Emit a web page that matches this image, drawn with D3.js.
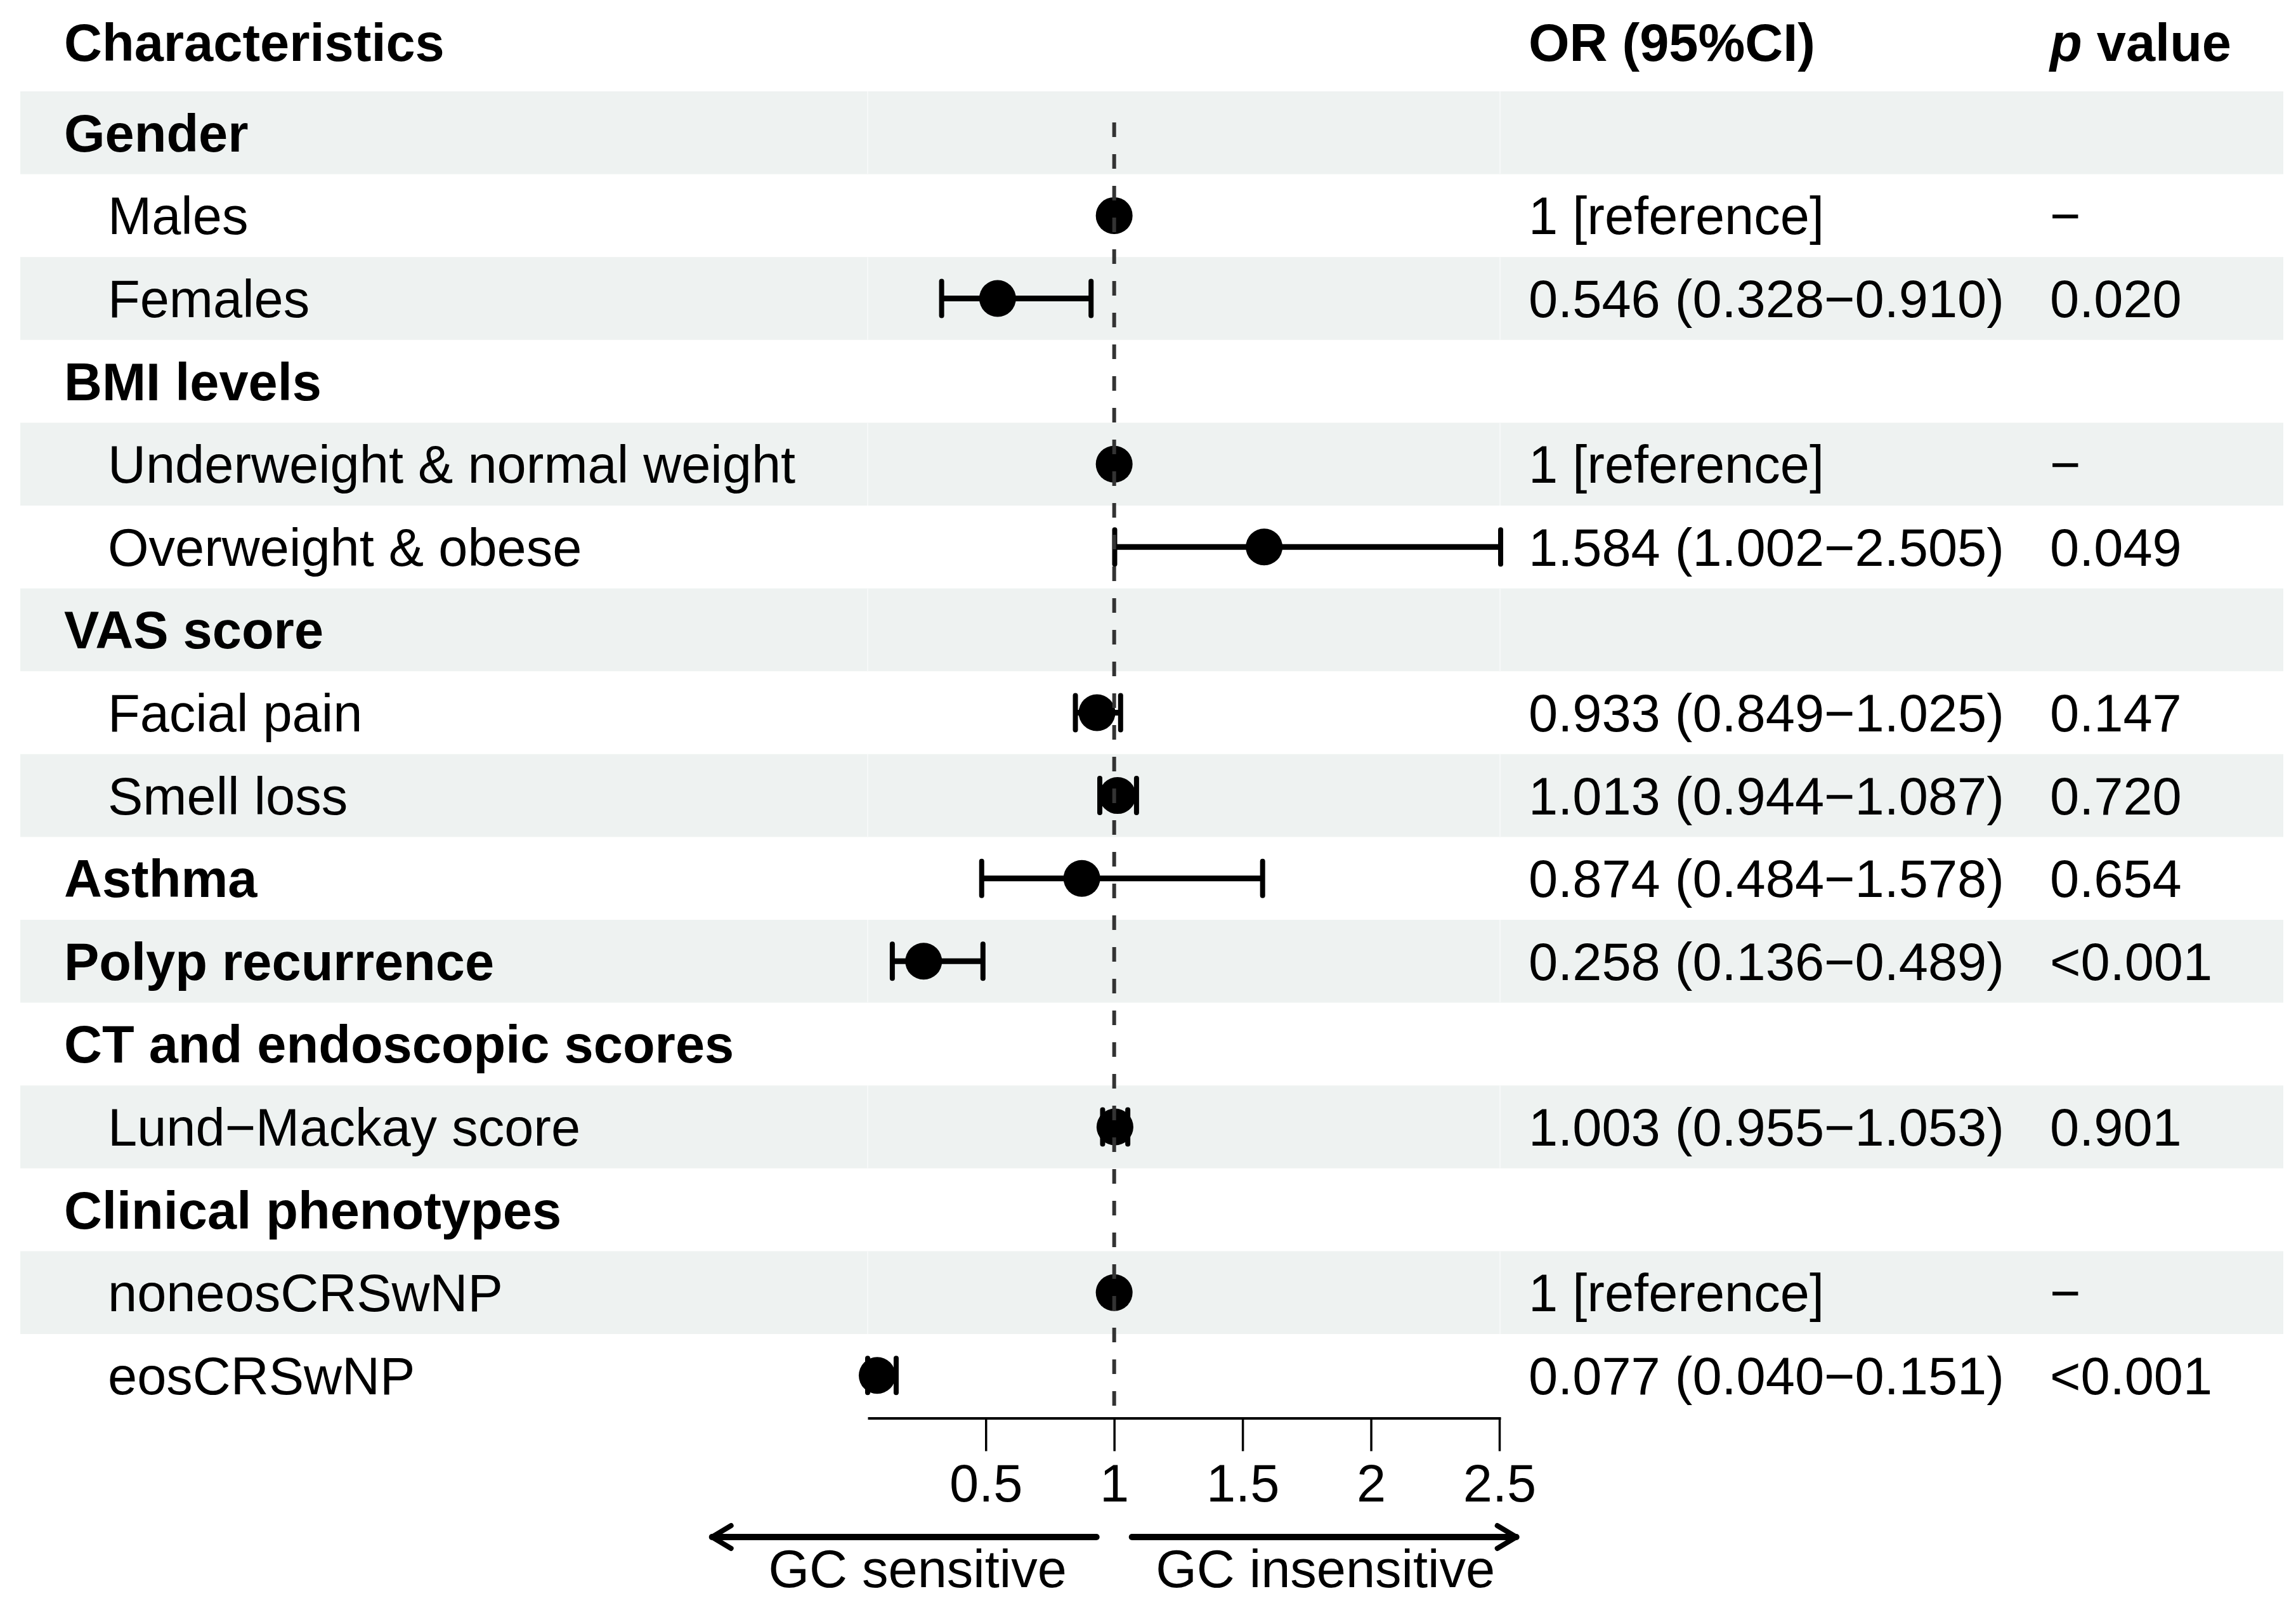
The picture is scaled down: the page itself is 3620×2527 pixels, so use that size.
<!DOCTYPE html>
<html lang="en">
<head>
  <meta charset="UTF-8">
  <title>Forest plot - GC sensitivity</title>
  <script src="https://d3js.org/d3.v7.min.js"></script>
  <style>
    body { margin: 0; background: #fff; }
    svg { display: block; }
    text {
      font-family: "Liberation Sans", Arial, Helvetica, sans-serif;
      font-size: 83px;
      fill: #000;
    }
  </style>
</head>
<body>
  <svg></svg>
  <script>

    // data
    const labels = ['Gender', 'Males', 'Females', 'BMI levels', 'Underweight & normal weight',
      'Overweight & obese', 'VAS score', 'Facial pain', 'Smell loss', 'Asthma',
      'Polyp recurrence', 'CT and endoscopic scores', 'Lund\u2212Mackay score',
      'Clinical phenotypes', 'noneosCRSwNP', 'eosCRSwNP'];
    // 0 = group heading, 1 = sub item
    const level = [0, 1, 1, 0, 1, 1, 0, 1, 1, 0, 0, 0, 1, 0, 1, 1];
    // OR and 95% CI (null = no estimate, ref rows have OR 1 with no CI)
    const est = [null, 1, 0.546, null, 1, 1.584, null, 0.933, 1.013, 0.874, 0.258, null, 1.003, null, 1, 0.077];
    const lo  = [null, null, 0.328, null, null, 1.002, null, 0.849, 0.944, 0.484, 0.136, null, 0.955, null, null, 0.040];
    const hi  = [null, null, 0.910, null, null, 2.505, null, 1.025, 1.087, 1.578, 0.489, null, 1.053, null, null, 0.151];
    const pvals = ['', '\u2212', '0.020', '', '\u2212', '0.049', '', '0.147', '0.720', '0.654', '<0.001', '', '0.901', '', '\u2212', '<0.001'];
    const ticks = [0.5, 1, 1.5, 2, 2.5];
    const arrowLabels = ['GC sensitive', 'GC insensitive'];

    // layout
    const W = 3620, H = 2527;
    const rowTop = 144, rowH = 130.6;
    const bandX0 = 32, bandX1 = 3600;
    const colLabel = 101, colIndent = 170, colOR = 2410, colP = 3232;
    const plotX0 = 1368, plotX1 = 2366;
    const n = labels.length;

    const svg = d3.select('svg')
      .attr('width', W)
      .attr('height', H);

    const x = d3.scaleLinear()
      .domain([d3.min(lo), d3.max(hi)])
      .range([plotX0, plotX1]);

    const y = d3.scaleBand()
      .domain(d3.range(n))
      .range([rowTop, rowTop + n * rowH]);

    const mid = i => y(i) + rowH / 2;
    const base = i => mid(i) + 29.5;

    // striped backgrounds
    const rows = d3.range(n);
    svg.selectAll('rect.band')
      .data(rows.filter(i => i % 2 === 0))
      .enter()
      .append('rect')
      .attr('class', 'band')
      .attr('x', bandX0)
      .attr('y', i => y(i))
      .attr('width', bandX1 - bandX0)
      .attr('height', rowH)
      .attr('fill', '#eef2f1');

    // faint column separators in the bands
    [plotX0, plotX1 - 1].forEach(cx => {
      svg.selectAll(null)
        .data(rows.filter(i => i % 2 === 0))
        .enter()
        .append('line')
        .attr('x1', cx).attr('x2', cx)
        .attr('y1', i => y(i)).attr('y2', i => y(i) + rowH)
        .attr('stroke', '#f6f8f8')
        .attr('stroke-width', 2);
    });

    // header
    const header = svg.append('g').attr('font-weight', 'bold');
    header.append('text').attr('x', colLabel).attr('y', 96).text('Characteristics');
    header.append('text').attr('x', colOR).attr('y', 96).text('OR (95%CI)');
    const pHead = header.append('text').attr('x', colP).attr('y', 96);
    pHead.append('tspan').attr('font-style', 'italic').text('p');
    pHead.append('tspan').text(' value');

    // label column
    svg.selectAll('text.lab')
      .data(rows)
      .enter()
      .append('text')
      .attr('class', 'lab')
      .attr('x', i => level[i] === 0 ? colLabel : colIndent)
      .attr('y', base)
      .attr('font-weight', i => level[i] === 0 ? 'bold' : 'normal')
      .text(i => labels[i]);

    // OR column
    const orText = i => {
      if (est[i] === null) return '';
      if (lo[i] === null) return '1 [reference]';
      return `${est[i].toFixed(3)} (${lo[i].toFixed(3)}\u2212${hi[i].toFixed(3)})`;
    };
    svg.selectAll('text.or')
      .data(rows)
      .enter()
      .append('text')
      .attr('class', 'or')
      .attr('x', colOR)
      .attr('y', base)
      .text(orText);

    // p column
    svg.selectAll('text.p')
      .data(rows)
      .enter()
      .append('text')
      .attr('class', 'p')
      .attr('x', colP)
      .attr('y', base)
      .text(i => pvals[i]);

    // CI lines and caps
    const ciRows = rows.filter(i => lo[i] !== null);
    svg.selectAll('line.ci')
      .data(ciRows)
      .enter()
      .append('line')
      .attr('x1', i => x(lo[i]))
      .attr('x2', i => x(hi[i]))
      .attr('y1', mid).attr('y2', mid)
      .attr('stroke', '#000')
      .attr('stroke-width', 9);

    ['lo', 'hi'].forEach(k => {
      const v = k === 'lo' ? lo : hi;
      svg.selectAll(null)
        .data(ciRows)
        .enter()
        .append('line')
        .attr('x1', i => x(v[i])).attr('x2', i => x(v[i]))
        .attr('y1', i => mid(i) - 27).attr('y2', i => mid(i) + 27)
        .attr('stroke', '#000')
        .attr('stroke-width', 8)
        .attr('stroke-linecap', 'round');
    });

    // points
    svg.selectAll('circle')
      .data(rows.filter(i => est[i] !== null))
      .enter()
      .append('circle')
      .attr('cx', i => x(est[i]))
      .attr('cy', mid)
      .attr('r', 29)
      .attr('fill', '#000');

    // x axis
    const axisY = y.range()[1] + 2;
    const xAxis = d3.axisBottom(x)
      .tickValues(ticks)
      .tickFormat(d3.format('~g'))
      .tickSize(52)
      .tickSizeOuter(0);
    const ax = svg.append('g')
      .attr('transform', `translate(0, ${axisY})`)
      .call(xAxis);
    ax.select('.domain').attr('stroke', '#000').attr('stroke-width', 4);
    ax.selectAll('.tick line').attr('stroke', '#000').attr('stroke-width', 3.5);
    ax.selectAll('.tick text')
      .attr('font-family', null)
      .attr('font-size', null)
      .attr('fill', '#000')
      .attr('y', 131)
      .attr('dy', 0);

    // reference line
    svg.append('line')
      .attr('x1', x(1)).attr('x2', x(1))
      .attr('y1', rowTop + 49).attr('y2', axisY)
      .attr('stroke', '#333')
      .attr('stroke-width', 6)
      .attr('stroke-dasharray', '23,27');

    // direction arrows
    const arrowY = 2423;
    const gap = 28, reach = 634;
    const arrows = svg.append('g')
      .attr('stroke', '#000')
      .attr('fill', 'none')
      .attr('stroke-linecap', 'round')
      .attr('stroke-linejoin', 'round');
    [-1, 1].forEach(s => {
      const x0 = x(1) + s * gap, x1 = x(1) + s * reach;
      arrows.append('line')
        .attr('x1', x0).attr('x2', x1)
        .attr('y1', arrowY).attr('y2', arrowY)
        .attr('stroke-width', 10);
      arrows.append('path')
        .attr('d', `M${x1 - s * 30},${arrowY - 18}L${x1},${arrowY}L${x1 - s * 30},${arrowY + 18}`)
        .attr('stroke-width', 8);
    });
    svg.append('text')
      .attr('x', x(1) - 310).attr('y', 2502)
      .attr('text-anchor', 'middle')
      .text(arrowLabels[0]);
    svg.append('text')
      .attr('x', x(1) + 333).attr('y', 2502)
      .attr('text-anchor', 'middle')
      .text(arrowLabels[1]);

  </script>
</body>
</html>
